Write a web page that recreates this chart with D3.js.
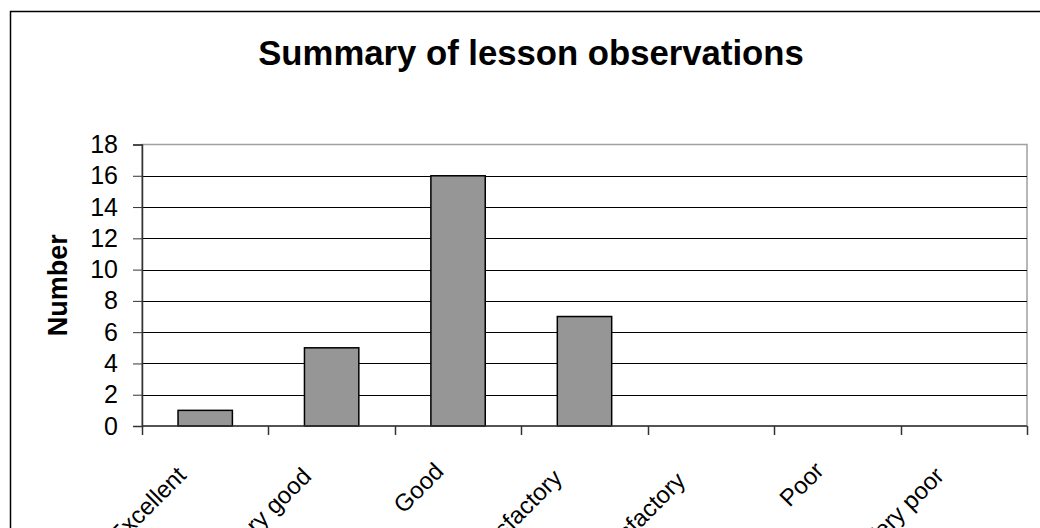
<!DOCTYPE html>
<html>
  <head>
    <meta charset="UTF-8">
    <style>
      body {
        margin: 0;
        background: #fff;
        font-family: Arial, "Liberation Sans", sans-serif;
      }
    </style>
    <script src="https://d3js.org/d3.v7.min.js"></script>
  </head>
  <body>
    <svg id="chart"></svg>

    <script type="text/javascript">
      let categories = ['Excellent', 'Very good', 'Good', 'Satisfactory', 'Unsatisfactory', 'Poor', 'Very poor']
      let counts = [1, 5, 16, 7, 0, 0, 0]
      let yTicks = [0, 2, 4, 6, 8, 10, 12, 14, 16, 18]

      let width = 1040
      let height = 528
      let plot = {left: 142, right: 1027, top: 144.5, bottom: 426}

      let svg = d3.select('#chart')
        .attr('width', width)
        .attr('height', height)

      // outer chart border (runs off the right and bottom edge)
      svg.append('rect')
        .attr('x', 10.5)
        .attr('y', 11.5)
        .attr('width', width + 20)
        .attr('height', height + 20)
        .attr('fill', 'none')
        .attr('stroke', '#000')
        .attr('stroke-width', 1.5)

      svg.append('text')
        .attr('x', 531)
        .attr('y', 65)
        .attr('text-anchor', 'middle')
        .style('font-size', '34.7px')
        .style('font-weight', 'bold')
        .text('Summary of lesson observations')

      let x = d3.scaleBand()
        .domain(categories)
        .range([plot.left, plot.right])

      let y = d3.scaleLinear()
        .domain([0, 18])
        .range([plot.bottom, plot.top])

      // plot frame
      svg.append('rect')
        .attr('x', plot.left)
        .attr('y', plot.top)
        .attr('width', plot.right - plot.left)
        .attr('height', plot.bottom - plot.top)
        .attr('fill', '#fff')
        .attr('stroke', '#a0a0a0')
        .attr('stroke-width', 1.5)

      // gridlines
      svg.append('g')
        .selectAll('line')
        .data(yTicks.filter(d => d > 0 && d < 18))
        .join('line')
          .attr('x1', plot.left)
          .attr('x2', plot.right)
          .attr('y1', d => Math.round(y(d)) + 0.5)
          .attr('y2', d => Math.round(y(d)) + 0.5)
          .attr('stroke', '#000')
          .attr('stroke-width', 1)

      svg.append('g')
        .selectAll('rect')
        .data(categories)
        .join('rect')
          .attr('x', (d, i) => x(d) + x.bandwidth() * 0.285)
          .attr('width', x.bandwidth() * 0.43)
          .attr('y', (d, i) => y(counts[i]))
          .attr('height', (d, i) => y(0) - y(counts[i]))
          .attr('fill', '#969696')
          .attr('stroke', '#000')
          .attr('stroke-width', 1.5)

      // y axis
      let yAxis = svg.append('g')
        .attr('transform', `translate(${plot.left},0)`)
        .call(d3.axisLeft(y).tickValues(yTicks).tickSize(9).tickPadding(15))
      yAxis.select('.domain').attr('stroke', '#333').attr('stroke-width', 1.5)
      yAxis.selectAll('.tick line').attr('stroke', '#333')
      yAxis.selectAll('text')
        .attr('fill', '#000')
        .style('font-size', '25px')
        .style('font-family', 'Arial, "Liberation Sans", sans-serif')

      // x axis: ticks on band edges
      let edges = categories.map(d => x(d)).concat([plot.right])
      svg.append('line')
        .attr('x1', plot.left)
        .attr('x2', plot.right)
        .attr('y1', plot.bottom)
        .attr('y2', plot.bottom)
        .attr('stroke', '#333')
        .attr('stroke-width', 1.5)
      svg.append('g')
        .selectAll('line')
        .data(edges)
        .join('line')
          .attr('x1', d => Math.round(d) + 0.5)
          .attr('x2', d => Math.round(d) + 0.5)
          .attr('y1', plot.bottom)
          .attr('y2', plot.bottom + 9)
          .attr('stroke', '#333')
          .attr('stroke-width', 1.5)

      // rotated category labels; longer labels sit a little further down-left
      svg.append('g')
        .selectAll('text')
        .data(categories)
        .join('text')
          .attr('text-anchor', 'end')
          .style('font-size', '24px')
          .text(d => d)
          .attr('transform', function(d) {
            let len = this.getComputedTextLength()
            let shift = Math.max(0, len - 50)
            let ex = x(d) + x.bandwidth() / 2 - 12 - 0.12 * shift
            let ey = plot.bottom + 46 + 0.1 * shift
            return `translate(${ex},${ey}) rotate(-45)`
          })

      svg.append('text')
        .attr('transform', `translate(67,${(plot.top + plot.bottom) / 2}) rotate(-90)`)
        .attr('text-anchor', 'middle')
        .style('font-size', '27px')
        .style('font-weight', 'bold')
        .text('Number')
    </script>
  </body>
</html>
